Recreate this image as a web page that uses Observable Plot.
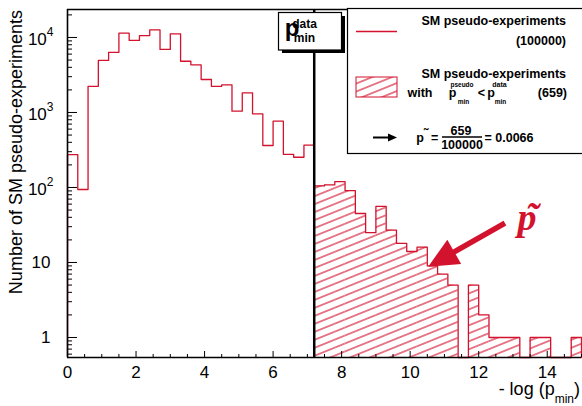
<!DOCTYPE html>
<html><head><meta charset="utf-8">
<script src="https://cdn.jsdelivr.net/npm/d3@7"></script>
<script src="https://cdn.jsdelivr.net/npm/@observablehq/plot@0.6"></script>
<style>body{margin:0;background:#fff}svg{display:block}</style>
</head><body><div id="chart"></div>
<script>
// ---- data ----
const binWidth = 0.3;
const xMax = 15;
// counts per bin of -log(p_min), bins of width 0.3 starting at 0
const counts = [275, 94, 2230, 4940, 6340, 11400, 9120, 10600, 12640, 6920,
  11200, 4820, 4320, 2750, 2230, 2340, 1040, 1830, 960, 363,
  765, 277, 253, 367,
  105, 108, 120, 91, 45, 25, 56, 27, 18, 14,
  16, 9, 7, 5, 0, 5, 2, 1, 1, 1,
  0, 1, 1, 0, 0, 1];
const pData = 7.2;          // -log(p_min^data)
const yMin = 0.541, yMax = 23600;
const xMajor = [0, 2, 4, 6, 8, 10, 12, 14];
const xMinor = [0.5, 1, 1.5, 2.5, 3, 3.5, 4.5, 5, 5.5, 6.5, 7, 7.5, 8.5, 9, 9.5, 10.5, 11, 11.5, 12.5, 13, 13.5, 14.5, 15];
const yMajor = [1, 10, 100, 1000, 10000];
const yMinor = [0.6, 0.7, 0.8, 0.9, 2, 3, 4, 5, 6, 7, 8, 9, 20, 30, 40, 50, 60, 70, 80, 90,
  200, 300, 400, 500, 600, 700, 800, 900, 2000, 3000, 4000, 5000, 6000, 7000, 8000, 9000, 20000];
const yTitle = "Number of SM pseudo-experiments";
const legendLine1 = "SM pseudo-experiments";
const legendTotal = "(100000)";
const legendSel = "(659)";
const fracNum = "659", fracDen = "100000", fracRes = "= 0.0066";

// ---- layout ----
const W = 582, H = 406, ml = 67, mr = 1, mt = 9, mb = 49;
const innerW = W - ml - mr, innerH = H - mt - mb;
const red = "#d3122d";
const font = "'Liberation Sans', Arial, Helvetica, sans-serif";

const bins = counts.map((c, i) => ({x1: i * binWidth, x2: (i + 1) * binWidth, count: c}));
const stepPts = [{x: 0, y: yMin}];
bins.forEach(b => {
  const v = b.count > 0 ? b.count : yMin;
  stepPts.push({x: b.x1, y: v}, {x: b.x2, y: v});
});
stepPts.push({x: bins[bins.length - 1].x2, y: yMin});
const hatchBins = bins.filter(b => b.x1 >= pData - 1e-9 && b.count > 0);

const plot = Plot.plot({
  width: W, height: H, marginLeft: ml, marginRight: mr, marginTop: mt, marginBottom: mb,
  style: {fontFamily: font, fontSize: "17px", color: "black", background: "white"},
  x: {domain: [0, xMax]},
  y: {type: "log", domain: [yMin, yMax]},
  marks: [
    Plot.rect(hatchBins, {x1: "x1", x2: "x2", y1: () => yMin, y2: "count", fill: "url(#hatch)"}),
    Plot.line(stepPts, {x: "x", y: "y", stroke: red, strokeWidth: 1.3}),
    Plot.ruleX(xMinor, {stroke: "black", strokeWidth: 1, insetTop: innerH - 3}),
    Plot.ruleX(xMajor, {stroke: "black", strokeWidth: 1, insetTop: innerH - 6}),
    Plot.ruleY(yMinor, {stroke: "black", strokeWidth: 1, insetRight: innerW - 5}),
    Plot.ruleY(yMajor, {stroke: "black", strokeWidth: 1, insetRight: innerW - 10}),
    Plot.ruleX([pData], {stroke: "black", strokeWidth: 2.5}),
    Plot.ruleX([0], {stroke: "black", strokeWidth: 1.6}),
    Plot.ruleY([yMin, yMax], {stroke: "black", strokeWidth: 1.6}),
    Plot.axisX({ticks: xMajor, tickSize: 0, tickPadding: 8, label: null, tickFormat: d => String(d)}),
    Plot.axisY({ticks: yMajor, tickSize: 0, tickPadding: 17, label: null,
      tickFormat: d => d >= 100 ? `10^${Math.round(Math.log10(d))}` : String(d)})
  ]
});
document.getElementById("chart").appendChild(plot);

const svg = d3.select(plot);
// hatch pattern
const defs = svg.insert("defs", ":first-child");
const pat = defs.append("pattern").attr("id", "hatch").attr("patternUnits", "userSpaceOnUse")
  .attr("width", 30).attr("height", 7.4).attr("patternTransform", "rotate(-22)");
pat.append("line").attr("x1", 0).attr("x2", 30).attr("y1", 3.7).attr("y2", 3.7)
  .attr("stroke", red).attr("stroke-width", 1.1);

// superscript exponents on y tick labels
svg.selectAll('[aria-label="y-axis tick label"] text').each(function () {
  const s = this.textContent;
  if (s.includes("^")) {
    const [b, e] = s.split("^");
    const el = d3.select(this);
    el.text(null);
    el.append("tspan").attr("dx", 3).attr("dy", 2.5).text(b);
    el.append("tspan").attr("dy", -9).attr("font-size", 12).text(e);
  }
});

const sx = plot.scale("x"), sy = plot.scale("y");
const g = svg.append("g").attr("font-family", font).attr("fill", "black");

// y title
g.append("text").attr("transform", "translate(22,10) rotate(-90)").attr("text-anchor", "end")
  .attr("font-size", 18).text(yTitle);
// x title
const xt = g.append("text").attr("x", 580).attr("y", 395).attr("text-anchor", "end").attr("font-size", 18);
xt.append("tspan").text("- log (p");
xt.append("tspan").attr("font-size", 12).attr("dy", 8).text("min");
xt.append("tspan").attr("dy", -8).text(")");

// p_min^data box
g.append("rect").attr("x", 282).attr("y", 16).attr("width", 63).attr("height", 37).attr("fill", "black");
g.append("rect").attr("x", 278.5).attr("y", 12.5).attr("width", 63).attr("height", 37.5)
  .attr("fill", "white").attr("stroke", "black").attr("stroke-width", 1.2);
const bold = g.append("g").attr("font-weight", "bold");
const pd = bold.append("text").attr("font-size", 24);
pd.append("tspan").attr("x", 292).attr("y", 35.5).text("p");
pd.append("tspan").attr("x", 304.5).attr("y", 28).attr("font-size", 12).text("data");
pd.append("tspan").attr("x", 304.5).attr("y", 42).attr("font-size", 12).text("min");

// legend
g.append("rect").attr("x", 347.5).attr("y", 8.5).attr("width", 240).attr("height", 145)
  .attr("fill", "white").attr("stroke", "black").attr("stroke-width", 1.2);
const lg = g.append("g").attr("font-weight", "bold").attr("font-size", 12.5);
lg.append("line").attr("x1", 356).attr("x2", 397).attr("y1", 31.5).attr("y2", 31.5).attr("stroke", red).attr("stroke-width", 1.5);
lg.append("text").attr("x", 566).attr("y", 25).attr("text-anchor", "end").text(legendLine1);
lg.append("text").attr("x", 566).attr("y", 45).attr("text-anchor", "end").text(legendTotal);
lg.append("rect").attr("x", 356).attr("y", 77).attr("width", 41).attr("height", 20)
  .attr("fill", "url(#hatch)").attr("stroke", red).attr("stroke-width", 1);
lg.append("text").attr("x", 566).attr("y", 78).attr("text-anchor", "end").text(legendLine1);
// "with p_min^pseudo < p_min^data" as one text with positioned tspans
const w2 = lg.append("text");
w2.append("tspan").attr("x", 420).attr("y", 97).text("with");
w2.append("tspan").attr("x", 452.5).attr("y", 97).text("p");
w2.append("tspan").attr("x", 462).attr("y", 86.5).attr("font-size", 6.5).text("pseudo");
w2.append("tspan").attr("x", 463.5).attr("y", 104).attr("font-size", 6.5).text("min");
w2.append("tspan").attr("x", 481.5).attr("y", 97).text("<");
w2.append("tspan").attr("x", 491).attr("y", 97).text("p");
w2.append("tspan").attr("x", 499.5).attr("y", 86.5).attr("font-size", 7).text("data");
w2.append("tspan").attr("x", 500.5).attr("y", 104).attr("font-size", 6.5).text("min");
lg.append("text").attr("x", 567).attr("y", 97).attr("text-anchor", "end").text(legendSel);
// legend arrow
lg.append("line").attr("x1", 373).attr("x2", 389).attr("y1", 137.5).attr("y2", 137.5).attr("stroke", "black").attr("stroke-width", 2);
lg.append("polygon").attr("points", "388,133.5 397,137.5 388,141.5").attr("fill", "black");
const w3 = lg.append("text");
w3.append("tspan").attr("x", 420).attr("y", 141.5).text("p");
w3.append("tspan").attr("x", 426).attr("y", 137.5).attr("font-size", 13).attr("text-anchor", "middle").text("\u02DC");
w3.append("tspan").attr("x", 431).attr("y", 141.5).attr("text-anchor", "start").text("=");
w3.append("tspan").attr("x", 461).attr("y", 135).attr("text-anchor", "middle").text(fracNum);
w3.append("tspan").attr("x", 462).attr("y", 148.5).attr("text-anchor", "middle").text(fracDen);
w3.append("tspan").attr("x", 484.5).attr("y", 141.5).attr("text-anchor", "start").text(fracRes);
lg.append("line").attr("x1", 442).attr("x2", 482).attr("y1", 137).attr("y2", 137).attr("stroke", "black").attr("stroke-width", 1.3);

// big red arrow pointing at the p-tilde region (tip at x=10.54, y=8.66 ; tail at x=12.78, y=33)
const tip = [sx.apply(10.54), sy.apply(8.66)], tail = [sx.apply(12.78), sy.apply(33)];
const dx = tip[0] - tail[0], dy = tip[1] - tail[1], L = Math.hypot(dx, dy);
const ux = dx / L, uy = dy / L, nx = -uy, ny = ux;
const hl = 30, hw = 14, sw = 2.8;
const bx = tip[0] - ux * hl, by = tip[1] - uy * hl;
const pts = [
  [tail[0] + nx * sw, tail[1] + ny * sw], [bx + nx * sw, by + ny * sw], [bx + nx * hw, by + ny * hw],
  tip, [bx - nx * hw, by - ny * hw], [bx - nx * sw, by - ny * sw], [tail[0] - nx * sw, tail[1] - ny * sw]
];
g.append("polygon").attr("points", pts.map(p => p.join(",")).join(" ")).attr("fill", red);
const pt = g.append("text").attr("font-family", "'Liberation Serif', 'Times New Roman', serif")
  .attr("font-weight", "bold").attr("font-style", "italic").attr("font-size", 38).attr("fill", red);
pt.append("tspan").attr("x", 527).attr("y", 230).text("p");
pt.append("tspan").attr("x", 532).attr("y", 229).attr("text-anchor", "middle").text("\u02DC");
</script>
</body></html>
